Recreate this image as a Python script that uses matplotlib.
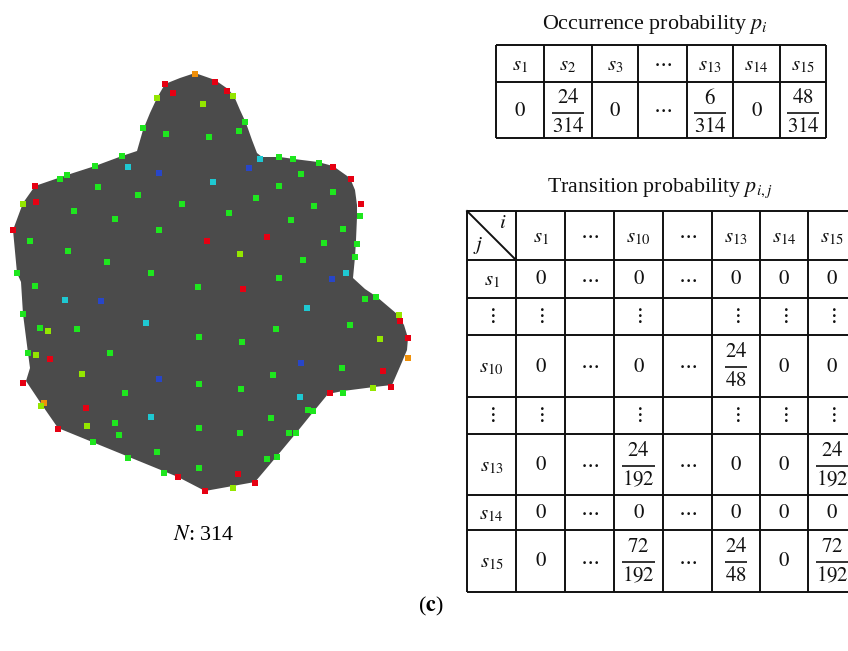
import matplotlib
matplotlib.use('Agg')
import matplotlib.pyplot as plt
from matplotlib.patches import Polygon

plt.rcParams['font.family'] = ['Liberation Serif', 'DejaVu Serif']
plt.rcParams['mathtext.fontset'] = 'stix'

# ---------------- data ----------------
# outline of the shape (pixel coordinates)
outline_x = [195, 215, 228, 234, 240, 246, 252, 257, 262, 280, 294, 318, 333, 350, 355,
             357, 357, 356, 355, 353, 365, 377, 397, 404, 408, 407, 402, 392, 374, 343,
             328, 314, 297, 277, 255, 205, 178, 58, 42, 32, 26, 30, 28, 23, 21, 17, 13,
             23, 35, 67, 95, 122, 137, 143, 150, 157, 165, 180]
outline_y = [73, 80, 89, 96, 110, 123, 140, 153, 157, 157, 159, 162, 166, 178, 190,
             205, 217, 240, 257, 278, 289, 297, 314, 325, 338, 350, 362, 385, 387, 391,
             394, 411, 432, 456, 482, 491, 477, 428, 405, 390, 381, 368, 353, 314, 282, 273, 230,
             203, 186, 175, 166, 156, 151, 130, 113, 98, 84, 78]

# sample points: x, y, state colour code
pts = [
    (195, 74, 'o'), (165, 84, 'r'), (215, 82, 'r'), (173, 93, 'r'), (157, 98, 'y'), (203, 104, 'y'),
    (143, 128, 'g'), (166, 134, 'g'), (209, 137, 'g'), (122, 156, 'g'), (95, 166, 'g'), (128, 167, 'c'),
    (159, 173, 'b'), (213, 182, 'c'), (67, 175, 'g'), (60, 179, 'g'), (35, 186, 'r'), (98, 187, 'g'),
    (138, 195, 'g'), (36, 202, 'r'), (23, 204, 'y'), (182, 204, 'g'), (74, 211, 'g'), (115, 219, 'g'),
    (159, 230, 'g'), (13, 230, 'r'), (207, 241, 'r'), (30, 241, 'g'), (68, 251, 'g'), (107, 262, 'g'),
    (151, 273, 'g'), (17, 273, 'g'), (35, 286, 'g'), (198, 287, 'g'),
    (227, 91, 'r'), (233, 96, 'y'), (245, 122, 'g'), (239, 131, 'g'), (260, 159, 'c'), (279, 157, 'g'),
    (293, 159, 'g'), (319, 163, 'g'), (333, 167, 'r'), (249, 168, 'b'), (301, 174, 'g'), (351, 179, 'r'),
    (279, 186, 'g'), (333, 192, 'g'), (256, 198, 'g'), (361, 204, 'r'), (314, 206, 'g'), (360, 216, 'g'),
    (229, 213, 'g'), (291, 220, 'g'), (343, 229, 'g'), (267, 237, 'r'), (324, 243, 'g'), (357, 244, 'g'),
    (240, 254, 'y'), (355, 257, 'g'), (303, 260, 'g'), (346, 273, 'c'), (332, 279, 'b'), (279, 278, 'g'),
    (243, 289, 'r'),
    (65, 300, 'c'), (101, 301, 'b'), (23, 314, 'g'), (146, 323, 'c'), (40, 328, 'g'), (48, 331, 'y'),
    (77, 329, 'g'), (199, 337, 'g'), (28, 353, 'g'), (36, 355, 'y'), (50, 359, 'r'), (110, 353, 'g'),
    (82, 374, 'y'), (159, 379, 'b'), (23, 383, 'r'), (125, 393, 'g'), (199, 384, 'g'), (44, 403, 'o'),
    (41, 406, 'y'), (86, 408, 'r'), (151, 417, 'c'), (115, 423, 'g'), (87, 426, 'y'), (199, 428, 'g'),
    (58, 429, 'r'), (119, 435, 'g'), (93, 442, 'g'), (157, 452, 'g'), (128, 458, 'g'), (199, 468, 'g'),
    (164, 473, 'g'), (178, 477, 'r'), (205, 491, 'r'),
    (376, 297, 'g'), (365, 299, 'g'), (307, 308, 'c'), (399, 315, 'y'), (400, 321, 'r'), (350, 325, 'g'),
    (276, 329, 'g'), (408, 338, 'r'), (380, 339, 'y'), (242, 342, 'g'), (301, 363, 'b'), (408, 358, 'o'),
    (342, 368, 'g'), (273, 375, 'g'), (383, 371, 'r'), (391, 387, 'r'), (373, 388, 'y'), (343, 393, 'g'),
    (330, 393, 'r'), (300, 397, 'c'), (241, 389, 'g'), (313, 411, 'g'), (308, 410, 'g'), (271, 418, 'g'),
    (240, 433, 'g'), (296, 433, 'g'), (289, 433, 'g'), (277, 457, 'g'), (267, 459, 'g'), (238, 474, 'r'),
    (255, 483, 'r'), (233, 488, 'y'),
]
pts_x = [p[0] for p in pts]
pts_y = [p[1] for p in pts]
pts_c = [p[2] for p in pts]

point_colors = {'r': '#e60012', 'g': '#1ee61e', 'y': '#94e600', 'o': '#f0900a',
                'c': '#1ec8d2', 'b': '#2846c8'}

shape_label = r'$N$: 314'
panel_label = r'($\mathbf{c}$)'

occ_title = r'Occurrence probability $p_i$'
occ_states = ['$s_1$', '$s_2$', '$s_3$', '...', '$s_{13}$', '$s_{14}$', '$s_{15}$']
occ_values = ['0', '24/314', '0', '...', '6/314', '0', '48/314']

trans_title = r'Transition probability $p_{i,j}$'
trans_cols = ['$s_1$', '...', '$s_{10}$', '...', '$s_{13}$', '$s_{14}$', '$s_{15}$']
trans_rows = ['$s_1$', ':', '$s_{10}$', ':', '$s_{13}$', '$s_{14}$', '$s_{15}$']
trans_values = [
    ['0', '...', '0', '...', '0', '0', '0'],
    [':', '', ':', '', ':', ':', ':'],
    ['0', '...', '0', '...', '24/48', '0', '0'],
    [':', '', ':', '', ':', ':', ':'],
    ['0', '...', '24/192', '...', '0', '0', '24/192'],
    ['0', '...', '0', '...', '0', '0', '0'],
    ['0', '...', '72/192', '...', '24/48', '0', '72/192'],
]

# ---------------- layout ----------------
W, H = 848, 651
fig = plt.figure(figsize=(W / 100, H / 100), dpi=100)
ax = fig.add_axes([0, 0, 1, 1])
ax.set_xlim(0, W)
ax.set_ylim(H, 0)
ax.axis('off')

FS = 15.0
FT = 15.8
LW = 1.4
INK = '#111111'

ax.add_patch(Polygon(list(zip(outline_x, outline_y)), closed=True,
                     facecolor='#4b4b4b', edgecolor='none', zorder=1))
ax.scatter(pts_x, pts_y, c=[point_colors[c] for c in pts_c], marker='s', s=19,
           linewidths=0, zorder=3)

ax.text(204, 535, shape_label, ha='center', va='center', fontsize=FT)
ax.text(431, 606, panel_label, ha='center', va='center', fontsize=FT)


def cell_text(cx, cy, s, shift=1.0):
    if s == '':
        return
    if s == '...':
        ax.text(cx, cy, r'$\cdots$', ha='center', va='center', fontsize=FS, color=INK)
    elif s == ':':
        ax.text(cx, cy, r'$\vdots$', ha='center', va='center', fontsize=FS, color=INK)
    elif '/' in s:
        num, den = s.split('/')
        fc = cy + shift
        ax.text(cx, fc - 14.5, '$%s$' % num, ha='center', va='center', fontsize=FS, color=INK)
        ax.text(cx, fc + 14.5, '$%s$' % den, ha='center', va='center', fontsize=FS, color=INK)
        half = 5.3 * max(len(num), len(den)) + 0.5
        ax.plot([cx - half, cx + half], [fc, fc], color=INK, lw=1.2, solid_capstyle='butt')
    elif s.startswith('$s'):
        ax.text(cx, cy + 2, s, ha='center', va='center', fontsize=FS, color=INK)
    else:
        ax.text(cx, cy + 1, '$%s$' % s, ha='center', va='center', fontsize=FS, color=INK)


# --- occurrence table ---
ox = [496, 544, 592, 638, 687, 733, 780, 826]
oy = [45, 82, 138]
ax.text(655, 24, occ_title, ha='center', va='center', fontsize=FT, color=INK)
ax.vlines(ox, oy[0], oy[-1], color=INK, lw=LW)
ax.hlines(oy, ox[0], ox[-1], color=INK, lw=LW)
for k in range(len(occ_states)):
    cx = (ox[k] + ox[k + 1]) / 2
    cell_text(cx, (oy[0] + oy[1]) / 2, occ_states[k])
    cell_text(cx, (oy[1] + oy[2]) / 2, occ_values[k], shift=3)

# --- transition table ---
tx = [467, 516, 565, 614, 663, 712, 760, 808, 856]
ty = [211, 260, 298, 335, 397, 434, 495, 530, 592]
ax.text(660, 188, trans_title, ha='center', va='center', fontsize=FT, color=INK)
ax.vlines(tx, ty[0], ty[-1], color=INK, lw=LW)
ax.hlines(ty, tx[0], tx[-1], color=INK, lw=LW)
ax.plot([tx[0], tx[1]], [ty[0], ty[1]], color=INK, lw=LW)
ax.text(503, 224, '$i$', ha='center', va='center', fontsize=FS, color=INK)
ax.text(478, 246, '$j$', ha='center', va='center', fontsize=FS, color=INK)
for k in range(len(trans_cols)):
    cell_text((tx[k + 1] + tx[k + 2]) / 2, (ty[0] + ty[1]) / 2, trans_cols[k])
for r in range(len(trans_rows)):
    cy = (ty[r + 1] + ty[r + 2]) / 2
    cell_text((tx[0] + tx[1]) / 2, cy, trans_rows[r])
    for k in range(len(trans_cols)):
        cell_text((tx[k + 1] + tx[k + 2]) / 2, cy, trans_values[r][k])

fig.savefig('out.png', dpi=100, facecolor='white')
